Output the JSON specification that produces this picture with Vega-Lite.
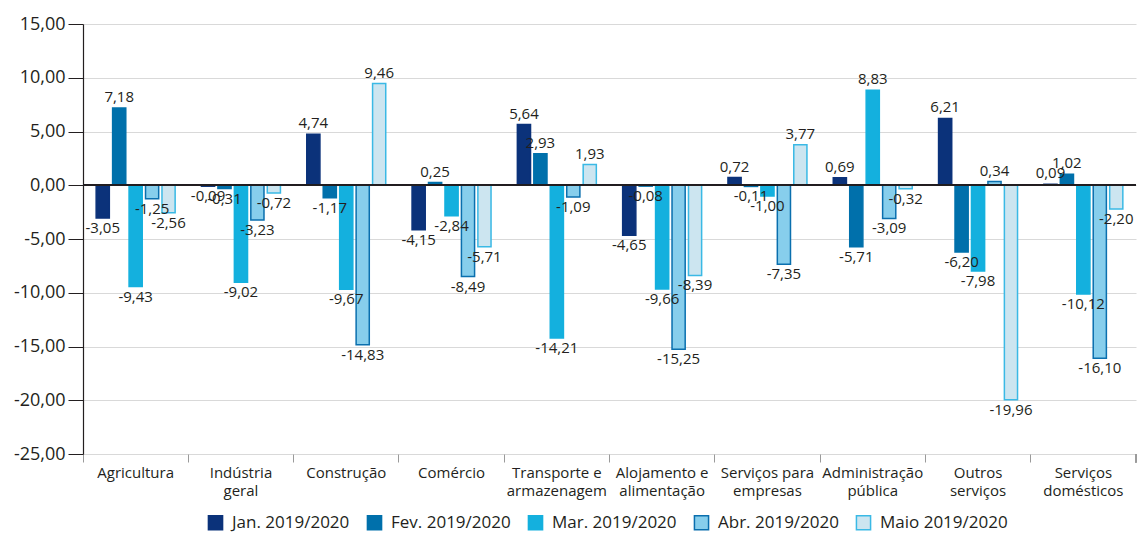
{
  "$schema": "https://vega.github.io/schema/vega-lite/v6.json",
  "autosize": {"type": "none"},
  "width": 1053,
  "height": 430,
  "padding": {"left": 83, "top": 24, "right": 3, "bottom": 80},
  "background": "white",
  "config": {
    "locale": {"number": {"decimal": ",", "thousands": ".", "grouping": [3], "currency": ["R$", ""], "minus": "-"}},
    "font": "Open Sans",
    "view": {"stroke": null},
    "axis": {"labelFont": "Open Sans", "labelColor": "#231f20"},
    "legend": {"labelFont": "Open Sans", "labelColor": "#231f20"}
  },
  "datasets": {"d": [
    {"setor": "Agricultura", "mes": "Jan. 2019/2020", "valor": -3.05},
    {"setor": "Agricultura", "mes": "Fev. 2019/2020", "valor": 7.18},
    {"setor": "Agricultura", "mes": "Mar. 2019/2020", "valor": -9.43},
    {"setor": "Agricultura", "mes": "Abr. 2019/2020", "valor": -1.25},
    {"setor": "Agricultura", "mes": "Maio 2019/2020", "valor": -2.56},
    {"setor": "Indústria geral", "mes": "Jan. 2019/2020", "valor": -0.09},
    {"setor": "Indústria geral", "mes": "Fev. 2019/2020", "valor": -0.31},
    {"setor": "Indústria geral", "mes": "Mar. 2019/2020", "valor": -9.02},
    {"setor": "Indústria geral", "mes": "Abr. 2019/2020", "valor": -3.23},
    {"setor": "Indústria geral", "mes": "Maio 2019/2020", "valor": -0.72},
    {"setor": "Construção", "mes": "Jan. 2019/2020", "valor": 4.74},
    {"setor": "Construção", "mes": "Fev. 2019/2020", "valor": -1.17},
    {"setor": "Construção", "mes": "Mar. 2019/2020", "valor": -9.67},
    {"setor": "Construção", "mes": "Abr. 2019/2020", "valor": -14.83},
    {"setor": "Construção", "mes": "Maio 2019/2020", "valor": 9.46},
    {"setor": "Comércio", "mes": "Jan. 2019/2020", "valor": -4.15},
    {"setor": "Comércio", "mes": "Fev. 2019/2020", "valor": 0.25},
    {"setor": "Comércio", "mes": "Mar. 2019/2020", "valor": -2.84},
    {"setor": "Comércio", "mes": "Abr. 2019/2020", "valor": -8.49},
    {"setor": "Comércio", "mes": "Maio 2019/2020", "valor": -5.71},
    {"setor": "Transporte e armazenagem", "mes": "Jan. 2019/2020", "valor": 5.64},
    {"setor": "Transporte e armazenagem", "mes": "Fev. 2019/2020", "valor": 2.93},
    {"setor": "Transporte e armazenagem", "mes": "Mar. 2019/2020", "valor": -14.21},
    {"setor": "Transporte e armazenagem", "mes": "Abr. 2019/2020", "valor": -1.09},
    {"setor": "Transporte e armazenagem", "mes": "Maio 2019/2020", "valor": 1.93},
    {"setor": "Alojamento e alimentação", "mes": "Jan. 2019/2020", "valor": -4.65},
    {"setor": "Alojamento e alimentação", "mes": "Fev. 2019/2020", "valor": -0.08},
    {"setor": "Alojamento e alimentação", "mes": "Mar. 2019/2020", "valor": -9.66},
    {"setor": "Alojamento e alimentação", "mes": "Abr. 2019/2020", "valor": -15.25},
    {"setor": "Alojamento e alimentação", "mes": "Maio 2019/2020", "valor": -8.39},
    {"setor": "Serviços para empresas", "mes": "Jan. 2019/2020", "valor": 0.72},
    {"setor": "Serviços para empresas", "mes": "Fev. 2019/2020", "valor": -0.11},
    {"setor": "Serviços para empresas", "mes": "Mar. 2019/2020", "valor": -1.00},
    {"setor": "Serviços para empresas", "mes": "Abr. 2019/2020", "valor": -7.35},
    {"setor": "Serviços para empresas", "mes": "Maio 2019/2020", "valor": 3.77},
    {"setor": "Administração pública", "mes": "Jan. 2019/2020", "valor": 0.69},
    {"setor": "Administração pública", "mes": "Fev. 2019/2020", "valor": -5.71},
    {"setor": "Administração pública", "mes": "Mar. 2019/2020", "valor": 8.83},
    {"setor": "Administração pública", "mes": "Abr. 2019/2020", "valor": -3.09},
    {"setor": "Administração pública", "mes": "Maio 2019/2020", "valor": -0.32},
    {"setor": "Outros serviços", "mes": "Jan. 2019/2020", "valor": 6.21},
    {"setor": "Outros serviços", "mes": "Fev. 2019/2020", "valor": -6.20},
    {"setor": "Outros serviços", "mes": "Mar. 2019/2020", "valor": -7.98},
    {"setor": "Outros serviços", "mes": "Abr. 2019/2020", "valor": 0.34},
    {"setor": "Outros serviços", "mes": "Maio 2019/2020", "valor": -19.96},
    {"setor": "Serviços domésticos", "mes": "Jan. 2019/2020", "valor": 0.09},
    {"setor": "Serviços domésticos", "mes": "Fev. 2019/2020", "valor": 1.02},
    {"setor": "Serviços domésticos", "mes": "Mar. 2019/2020", "valor": -10.12},
    {"setor": "Serviços domésticos", "mes": "Abr. 2019/2020", "valor": -16.10},
    {"setor": "Serviços domésticos", "mes": "Maio 2019/2020", "valor": -2.20}
  ]},
  "data": {"name": "d"},
  "layer": [
    {
      "mark": {"type": "bar", "strokeWidth": 1.5},
      "encoding": {
        "x": {
          "field": "setor", "type": "nominal", "sort": null, "title": null,
          "scale": {"paddingInner": 0, "paddingOuter": 0},
          "axis": {
            "orient": "bottom",
            "labelAngle": 0, "labelFontSize": 15, "labelLineHeight": 18, "labelPadding": 3,
            "tickColor": "#9a9a9a", "tickSize": 8, "tickWidth": 1, "bandPosition": 0,
            "domain": false, "grid": false, "labelBaseline": "top",
            "labelExpr": "indexof(datum.value, ' ') >= 0 ? [substring(datum.value, 0, lastindexof(datum.value, ' ')), substring(datum.value, lastindexof(datum.value, ' ') + 1)] : datum.value"
          }
        },
        "xOffset": {
          "field": "mes", "type": "nominal", "sort": null,
          "scale": {"paddingInner": 0.2, "paddingOuter": 0.8}
        },
        "y": {
          "field": "valor", "type": "quantitative", "title": null,
          "scale": {"domain": [-25, 15], "nice": false},
          "axis": {
            "values": [-25, -20, -15, -10, -5, 0, 5, 10, 15], "format": ".2f",
            "labelFontSize": 18, "labelPadding": 3, "tickSize": 15, "tickColor": "#231f20",
            "domainColor": "#231f20", "domainWidth": 1.2, "gridColor": "#d9d9d9", "gridWidth": 1.2
          }
        },
        "fill": {
          "field": "mes", "type": "nominal", "sort": null,
          "scale": {"domain": ["Jan. 2019/2020", "Fev. 2019/2020", "Mar. 2019/2020", "Abr. 2019/2020", "Maio 2019/2020"],
                    "range": ["#0b327a", "#0070ab", "#14b0de", "#87ceec", "#cce5f0"]},
          "legend": {
            "title": null, "orient": "none", "legendX": 124, "legendY": 490, "direction": "horizontal",
            "labelFontSize": 17, "symbolType": "square", "symbolSize": 200, "symbolStrokeWidth": 1.5,
            "columnPadding": 14, "labelOffset": 8
          }
        },
        "stroke": {
          "field": "mes", "type": "nominal", "sort": null,
          "scale": {"domain": ["Jan. 2019/2020", "Fev. 2019/2020", "Mar. 2019/2020", "Abr. 2019/2020", "Maio 2019/2020"],
                    "range": ["#0b327a", "#0070ab", "#14b0de", "#0a6fae", "#3ab9e5"]},
          "legend": {
            "title": null, "orient": "none", "legendX": 124, "legendY": 490, "direction": "horizontal",
            "labelFontSize": 17, "symbolType": "square", "symbolSize": 200, "symbolStrokeWidth": 1.5,
            "columnPadding": 14, "labelOffset": 8
          }
        }
      }
    },
    {
      "mark": {"type": "rule", "color": "#231f20", "strokeWidth": 1.2},
      "encoding": {"y": {"datum": 0, "type": "quantitative"}}
    },
    {
      "mark": {"type": "rule", "color": "#9a9a9a", "strokeWidth": 1},
      "encoding": {
        "x": {"datum": "Serviços domésticos", "type": "nominal", "bandPosition": 1},
        "y": {"datum": -25, "type": "quantitative"},
        "y2": {"datum": -25.75}
      }
    },
    {
      "transform": [{"filter": "datum.valor >= 0"}],
      "mark": {"type": "text", "baseline": "bottom", "dy": -3, "fontSize": 15, "color": "#231f20"},
      "encoding": {
        "x": {"field": "setor", "type": "nominal", "sort": null},
        "xOffset": {"field": "mes", "type": "nominal", "sort": null},
        "y": {"field": "valor", "type": "quantitative"},
        "text": {"field": "valor", "type": "quantitative", "format": ".2f"}
      }
    },
    {
      "transform": [{"filter": "datum.valor < 0"}],
      "mark": {"type": "text", "baseline": "top", "dy": 3, "fontSize": 15, "color": "#231f20"},
      "encoding": {
        "x": {"field": "setor", "type": "nominal", "sort": null},
        "xOffset": {"field": "mes", "type": "nominal", "sort": null},
        "y": {"field": "valor", "type": "quantitative"},
        "text": {"field": "valor", "type": "quantitative", "format": ".2f"}
      }
    }
  ]
}
